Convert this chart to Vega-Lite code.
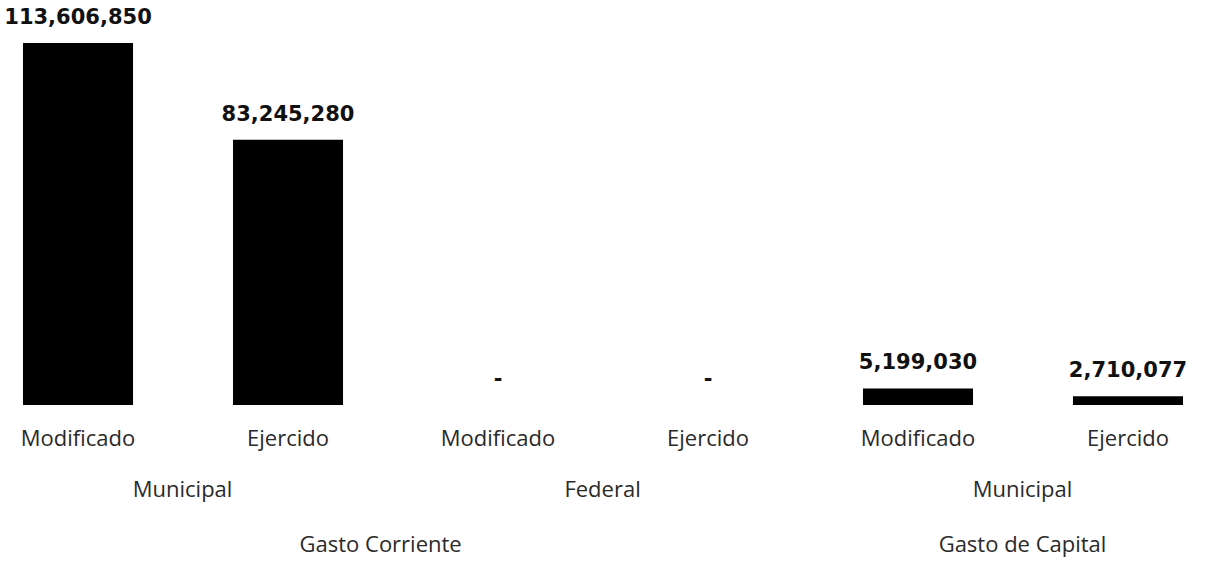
{
  "$schema": "https://vega.github.io/schema/vega-lite/v6.json",
  "autosize": {"type": "none"},
  "width": 1206,
  "height": 362,
  "padding": {"left": 0, "top": 43, "right": 0, "bottom": 160},
  "background": "white",
  "config": {"view": {"stroke": null}},
  "data": {
    "values": [
      {"key": "Gasto Corriente|Municipal|Modificado", "gasto": "Gasto Corriente", "fuente": "Municipal", "tipo": "Modificado", "value": 113606850, "first": true, "gfirst": true},
      {"key": "Gasto Corriente|Municipal|Ejercido", "gasto": "Gasto Corriente", "fuente": "Municipal", "tipo": "Ejercido", "value": 83245280, "first": false, "gfirst": false},
      {"key": "Gasto Corriente|Federal|Modificado", "gasto": "Gasto Corriente", "fuente": "Federal", "tipo": "Modificado", "value": 0, "first": true, "gfirst": false},
      {"key": "Gasto Corriente|Federal|Ejercido", "gasto": "Gasto Corriente", "fuente": "Federal", "tipo": "Ejercido", "value": 0, "first": false, "gfirst": false},
      {"key": "Gasto de Capital|Municipal|Modificado", "gasto": "Gasto de Capital", "fuente": "Municipal", "tipo": "Modificado", "value": 5199030, "first": true, "gfirst": true},
      {"key": "Gasto de Capital|Municipal|Ejercido", "gasto": "Gasto de Capital", "fuente": "Municipal", "tipo": "Ejercido", "value": 2710077, "first": false, "gfirst": false}
    ]
  },
  "encoding": {
    "x": {
      "field": "key",
      "type": "nominal",
      "sort": null,
      "scale": {"paddingInner": 0.476, "paddingOuter": 0.1095},
      "axis": {
        "title": null,
        "domain": false,
        "ticks": false,
        "labelAngle": 0,
        "labelExpr": "split(datum.label, '|')[2]",
        "labelFont": "Open Sans",
        "labelFontSize": 22,
        "labelColor": "#2a2a2a",
        "labelPadding": 23,
        "labelBaseline": "top"
      }
    }
  },
  "layer": [
    {
      "mark": {"type": "bar", "color": "#000000"},
      "encoding": {
        "y": {"field": "value", "type": "quantitative", "scale": {"domain": [0, 113606850], "nice": false, "zero": true}, "axis": null}
      }
    },
    {
      "mark": {"type": "text", "font": "DejaVu Sans", "fontWeight": "bold", "fontSize": 21, "color": "#111111", "baseline": "middle", "dy": -25},
      "encoding": {
        "y": {"field": "value", "type": "quantitative"},
        "text": {"condition": {"test": "datum.value == 0", "value": "-"}, "field": "value", "type": "quantitative", "format": ","}
      }
    },
    {
      "transform": [{"filter": "datum.first"}],
      "mark": {"type": "text", "font": "Open Sans", "fontSize": 22, "color": "#2a2a2a", "baseline": "middle", "dy": 85},
      "encoding": {
        "x": {"field": "key", "type": "nominal", "sort": null, "bandPosition": 1.45},
        "y": {"datum": 0, "type": "quantitative"},
        "text": {"field": "fuente"}
      }
    },
    {
      "transform": [{"filter": "datum.gfirst && datum.gasto == 'Gasto Corriente'"}],
      "mark": {"type": "text", "font": "Open Sans", "fontSize": 22, "color": "#2a2a2a", "baseline": "middle", "dy": 140},
      "encoding": {
        "x": {"field": "key", "type": "nominal", "sort": null, "bandPosition": 3.25},
        "y": {"datum": 0, "type": "quantitative"},
        "text": {"field": "gasto"}
      }
    },
    {
      "transform": [{"filter": "datum.gfirst && datum.gasto == 'Gasto de Capital'"}],
      "mark": {"type": "text", "font": "Open Sans", "fontSize": 22, "color": "#2a2a2a", "baseline": "middle", "dy": 140},
      "encoding": {
        "x": {"field": "key", "type": "nominal", "sort": null, "bandPosition": 1.45},
        "y": {"datum": 0, "type": "quantitative"},
        "text": {"field": "gasto"}
      }
    }
  ]
}
